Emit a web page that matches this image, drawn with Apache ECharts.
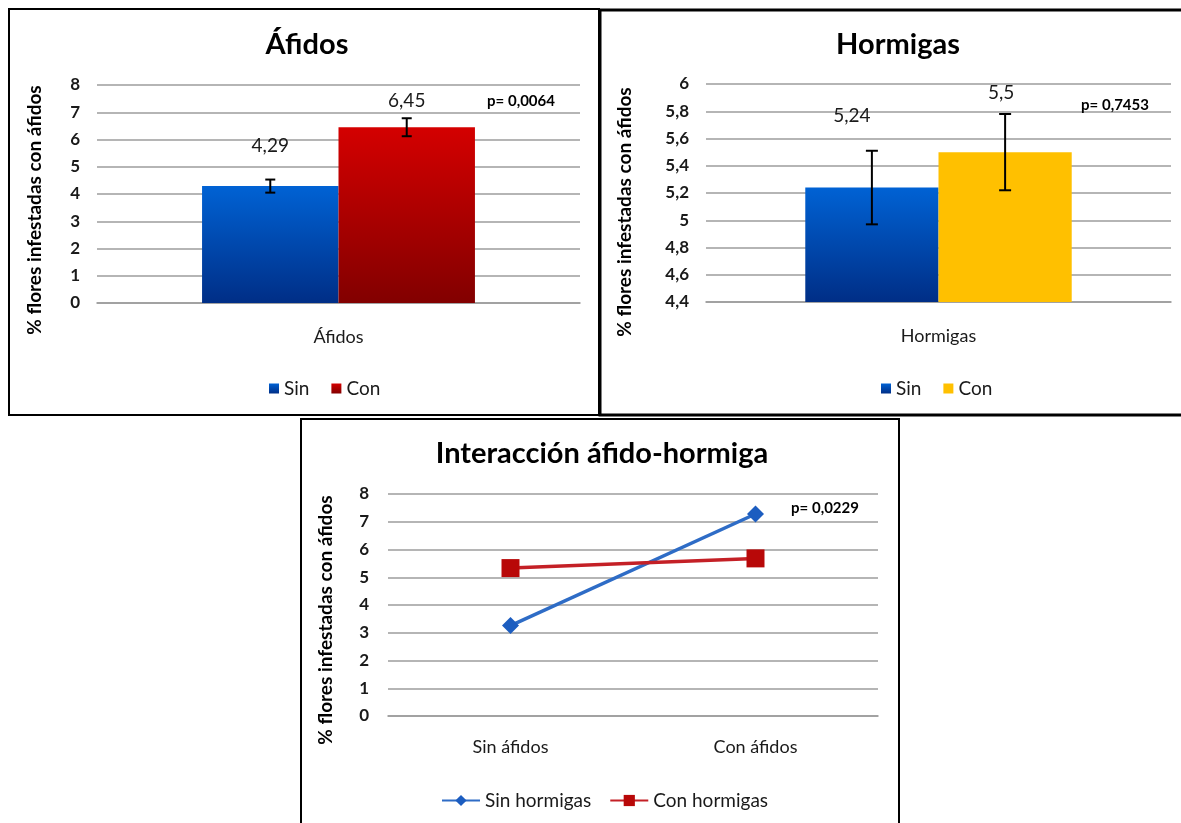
<!DOCTYPE html>
<html>
<head>
<meta charset="utf-8">
<script src="https://cdn.jsdelivr.net/npm/echarts@6/dist/echarts.min.js"></script>
<style>
html,body{margin:0;padding:0;background:#fff;}
#c{width:1181px;height:823px;}
</style>
</head>
<body>
<div id="c"></div>
<script>
// ---- data ----
const aphidCats = ['Áfidos'];
const aphidSin = [4.29];
const aphidCon = [6.45];
const aphidSinErr = [0.24];
const aphidConErr = [0.33];
const aphidP = 'p= 0,0064';

const antCats = ['Hormigas'];
const antSin = [5.24];
const antCon = [5.5];
const antSinErr = [0.27];
const antConErr = [0.28];
const antP = 'p= 0,7453';

const interCats = ['Sin áfidos', 'Con áfidos'];
const sinHormigas = [3.26, 7.28];
const conHormigas = [5.33, 5.68];
const interP = 'p= 0,0229';

const yName = '% flores infestadas con áfidos';

const FONT = 'Lato';
const tick = v => String(Math.round(v * 10) / 10).replace('.', ',');
const dec = v => String(v).replace('.', ',');

const GAP1 = 0.435, GAP2 = 0.427;

function grad(top, bottom) {
  return new echarts.graphic.LinearGradient(0, 0, 0, 1, [
    {offset: 0, color: top}, {offset: 1, color: bottom}
  ]);
}
const blueGrad = grad('#0062D4', '#002E86');
const redGrad = grad('#D40000', '#820000');
const yellow = '#FFC000';

function errSeries(xi, vals, errs, side, gap, cap) {
  return {
    type: 'custom', xAxisIndex: xi, yAxisIndex: xi, z: 10, silent: true,
    data: vals.map((v, i) => [i, v, errs[i], side]),
    renderItem: function (params, api) {
      const cat = api.value(0), v = api.value(1), e = api.value(2), s = api.value(3);
      const band = api.size([1, 0])[0];
      const bw = band * (1 - gap) / 2;
      const cx = api.coord([cat, v])[0] + s * bw / 2;
      const yt = api.coord([cat, v + e])[1];
      const yb = api.coord([cat, v - e])[1];
      const st = {stroke: '#000', lineWidth: 2};
      return {type: 'group', children: [
        {type: 'line', shape: {x1: cx, y1: yt, x2: cx, y2: yb}, style: st},
        {type: 'line', shape: {x1: cx - cap, y1: yt, x2: cx + cap, y2: yt}, style: st},
        {type: 'line', shape: {x1: cx - cap, y1: yb, x2: cx + cap, y2: yb}, style: st}
      ]};
    }
  };
}

const gridLine = {show: true, lineStyle: {color: '#9c9c9c', width: 1.6}};
const yLabel = {fontFamily: FONT, fontWeight: 'bold', fontSize: 17, color: '#1a1a1a', margin: 17};
const xLabel = {fontFamily: FONT, fontSize: 18, color: '#1a1a1a'};
const xLine = {show: true, lineStyle: {color: '#9c9c9c', width: 1.6}};

const labelStyle = {fontFamily: FONT, fontSize: 19, color: '#1a1a1a'};
const legText = {fontFamily: FONT, fontSize: 19, color: '#1a1a1a'};
const titleStyle = {fontFamily: FONT, fontWeight: 'bold', fontSize: 29, color: '#000'};
const pStyle = {fontFamily: FONT, fontWeight: 'bold', fontSize: 15, color: '#000'};
const nameStyle = {fontFamily: FONT, fontWeight: 'bold', fontSize: 19, fill: '#000', textAlign: 'center', textVerticalAlign: 'middle'};

const option = {
  animation: false,
  backgroundColor: '#fff',
  title: [
    {text: 'Áfidos', left: 302, top: 25, textAlign: 'center', textStyle: titleStyle},
    {text: 'Hormigas', left: 893, top: 25, textAlign: 'center', textStyle: titleStyle},
    {text: 'Interacción áfido-hormiga', left: 597, top: 434, textAlign: 'center', textStyle: titleStyle},
    {text: aphidP, left: 516, top: 89, textAlign: 'center', textStyle: pStyle},
    {text: antP, left: 1110, top: 93, textAlign: 'center', textStyle: pStyle},
    {text: interP, left: 820, top: 496, textAlign: 'center', textStyle: pStyle}
  ],
  legend: [
    {data: ['Sin', 'Con'], left: 264, top: 374, icon: 'rect', itemWidth: 10, itemHeight: 10, itemGap: 22, textStyle: legText},
    {data: ['Sin2', 'Con2'], left: 876, top: 374, icon: 'rect', itemWidth: 10, itemHeight: 10, itemGap: 22,
     formatter: n => n.replace('2', ''), textStyle: legText},
    {data: ['Sin hormigas', 'Con hormigas'], left: 436, top: 786, itemWidth: 38, itemHeight: 14, itemGap: 18, textStyle: legText}
  ],
  grid: [
    {left: 97, top: 85, width: 483, height: 218},
    {left: 706, top: 84, width: 465, height: 218},
    {left: 388, top: 494, width: 490, height: 222}
  ],
  xAxis: [
    {type: 'category', gridIndex: 0, data: aphidCats, axisLine: xLine, axisTick: {show: false}, axisLabel: Object.assign({margin: 25}, xLabel)},
    {type: 'category', gridIndex: 1, data: antCats, axisLine: xLine, axisTick: {show: false}, axisLabel: Object.assign({margin: 25}, xLabel)},
    {type: 'category', gridIndex: 2, data: interCats, axisLine: xLine, axisTick: {show: false}, axisLabel: Object.assign({margin: 22}, xLabel)}
  ],
  yAxis: [
    {type: 'value', gridIndex: 0, min: 0, max: 8, interval: 1, axisLine: {show: false}, axisTick: {show: false}, splitLine: gridLine, axisLabel: yLabel},
    {type: 'value', gridIndex: 1, min: 4.4, max: 6, interval: 0.2, axisLine: {show: false}, axisTick: {show: false}, splitLine: gridLine,
     axisLabel: Object.assign({formatter: tick}, yLabel)},
    {type: 'value', gridIndex: 2, min: 0, max: 8, interval: 1, axisLine: {show: false}, axisTick: {show: false}, splitLine: gridLine,
     axisLabel: Object.assign({}, yLabel, {margin: 19})}
  ],
  series: [
    {name: 'Sin', type: 'bar', xAxisIndex: 0, yAxisIndex: 0, data: aphidSin, barGap: '0%', barCategoryGap: (GAP1 * 100) + '%',
     itemStyle: {color: blueGrad}, label: {show: true, position: 'top', distance: 31, formatter: p => dec(p.value), ...labelStyle}},
    {name: 'Con', type: 'bar', xAxisIndex: 0, yAxisIndex: 0, data: aphidCon, barGap: '0%', barCategoryGap: (GAP1 * 100) + '%',
     itemStyle: {color: redGrad}, label: {show: true, position: 'top', distance: 17, formatter: p => dec(p.value), ...labelStyle}},
    errSeries(0, aphidSin, aphidSinErr, -1, GAP1, 5),
    errSeries(0, aphidCon, aphidConErr, 1, GAP1, 5),

    {name: 'Sin2', type: 'bar', xAxisIndex: 1, yAxisIndex: 1, data: antSin, barGap: '0%', barCategoryGap: (GAP2 * 100) + '%',
     itemStyle: {color: blueGrad}, label: {show: true, position: 'top', distance: 62, offset: [-20, 0], formatter: p => dec(p.value), ...labelStyle}},
    {name: 'Con2', type: 'bar', xAxisIndex: 1, yAxisIndex: 1, data: antCon, barGap: '0%', barCategoryGap: (GAP2 * 100) + '%',
     itemStyle: {color: yellow}, label: {show: true, position: 'top', distance: 50, offset: [-4, 0], formatter: p => dec(p.value), ...labelStyle}},
    errSeries(1, antSin, antSinErr, -1, GAP2, 6),
    errSeries(1, antCon, antConErr, 1, GAP2, 6),

    {name: 'Sin hormigas', type: 'line', xAxisIndex: 2, yAxisIndex: 2, data: sinHormigas,
     symbol: 'diamond', symbolSize: 17, lineStyle: {color: '#2E6CC6', width: 3.5},
     itemStyle: {color: '#1C5DC0'}},
    {name: 'Con hormigas', type: 'line', xAxisIndex: 2, yAxisIndex: 2, data: conHormigas,
     symbol: 'rect', symbolSize: 18, lineStyle: {color: '#C42026', width: 3.5},
     itemStyle: {color: '#B80808'}}
  ],
  graphic: [
    {type: 'rect', shape: {x: 9, y: 9, width: 590, height: 406}, style: {fill: 'none', stroke: '#000', lineWidth: 2}, z: 100},
    {type: 'rect', shape: {x: 600, y: 10, width: 600, height: 405}, style: {fill: 'none', stroke: '#000', lineWidth: 3}, z: 100},
    {type: 'rect', shape: {x: 301, y: 419, width: 598, height: 420}, style: {fill: 'none', stroke: '#000', lineWidth: 2}, z: 100},
    {type: 'text', x: 35, y: 210, rotation: Math.PI / 2, style: Object.assign({text: yName}, nameStyle)},
    {type: 'text', x: 625, y: 212, rotation: Math.PI / 2, style: Object.assign({text: yName}, nameStyle)},
    {type: 'text', x: 326, y: 620, rotation: Math.PI / 2, style: Object.assign({text: yName}, nameStyle)}
  ]
};

const chart = echarts.init(document.getElementById('c'));
chart.setOption(option);
</script>
</body>
</html>
